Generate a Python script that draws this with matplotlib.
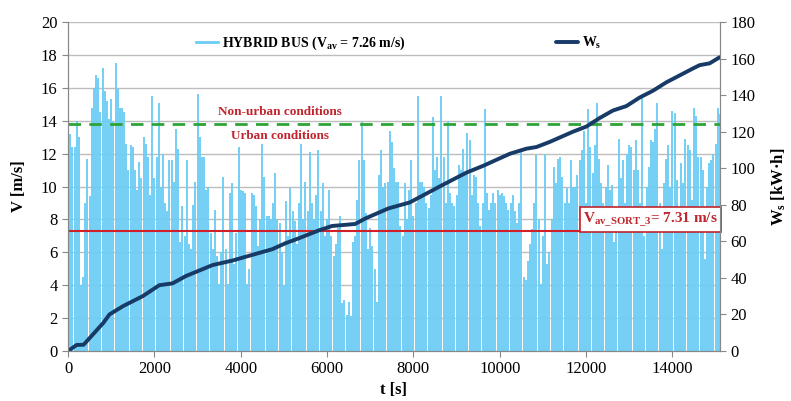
import numpy as np
import matplotlib
matplotlib.use("Agg")
import matplotlib.pyplot as plt

plt.rcParams['font.family'] = ['Liberation Serif', 'DejaVu Serif']
plt.rcParams['mathtext.fontset'] = 'custom'
plt.rcParams['mathtext.rm'] = 'Liberation Serif:bold'
plt.rcParams['mathtext.bf'] = 'Liberation Serif:bold'
plt.rcParams['mathtext.it'] = 'Liberation Serif:bold'

# speed trace, one reading every 50 s (peaks)
speed_step = 50
speed = [
    4.0, 13.2, 12.4, 12.4, 14.0, 13.0, 4.0, 4.5, 9.0, 11.7,
    9.4, 14.8, 16.0, 16.8, 16.6, 14.5, 17.2, 15.8, 15.2, 14.1,
    15.3, 14.0, 17.5, 15.9, 14.8, 14.8, 14.5, 12.6, 11.0, 12.5,
    12.4, 11.0, 9.8, 11.5, 10.5, 13.0, 12.6, 11.8, 9.5, 15.5,
    10.5, 11.8, 15.1, 10.0, 12.0, 9.0, 8.5, 11.6, 11.6, 10.3,
    13.5, 12.3, 6.6, 8.8, 7.0, 11.6, 6.5, 6.2, 8.9, 10.3,
    15.6, 13.0, 11.8, 11.8, 9.8, 10.0, 7.2, 6.2, 8.6, 5.8,
    4.1, 6.0, 10.6, 6.2, 4.1, 9.6, 10.2, 5.3, 7.2, 12.4,
    9.8, 9.7, 9.6, 4.1, 5.0, 9.6, 9.5, 8.8, 6.4, 8.0,
    12.6, 10.6, 8.2, 8.2, 8.0, 9.0, 10.8, 8.0, 7.8, 6.0,
    4.0, 9.1, 7.0, 9.9, 8.5, 7.9, 6.5, 9.0, 12.6, 8.0,
    10.3, 8.5, 12.1, 9.0, 8.0, 9.5, 12.2, 8.5, 10.2, 7.0,
    8.0, 9.8, 7.0, 5.8, 6.5, 7.5, 8.2, 2.9, 3.1, 2.2,
    3.0, 2.1, 6.6, 7.0, 9.2, 11.6, 13.9, 11.6, 8.4, 6.2,
    7.5, 6.4, 5.0, 3.0, 10.7, 12.2, 10.0, 10.2, 10.3, 13.4,
    12.7, 11.1, 10.3, 10.3, 7.6, 7.0, 10.2, 8.0, 9.8, 11.6,
    8.2, 9.0, 15.5, 10.3, 10.3, 10.0, 9.0, 8.7, 9.5, 14.2,
    11.0, 11.8, 10.5, 15.5, 11.8, 9.0, 14.0, 9.6, 9.0, 8.8,
    9.5, 11.3, 11.0, 12.3, 10.8, 13.25, 12.85, 9.5, 10.7, 10.6,
    9.0, 7.6, 9.0, 14.7, 9.6, 8.6, 9.0, 9.6, 9.0, 9.8,
    9.5, 9.6, 9.4, 9.0, 8.6, 9.0, 9.5, 8.5, 7.8, 9.0,
    12.1, 4.5, 4.3, 5.5, 6.5, 7.4, 9.0, 11.9, 8.0, 4.1,
    7.0, 12.0, 5.3, 6.0, 8.0, 11.2, 10.2, 11.7, 11.8, 10.6,
    9.0, 9.9, 9.0, 11.6, 10.0, 10.0, 10.7, 11.6, 12.2, 13.4,
    9.0, 14.7, 12.4, 10.8, 12.5, 15.1, 11.7, 10.2, 9.0, 10.0,
    11.3, 9.8, 10.1, 6.6, 8.0, 12.9, 10.5, 11.6, 9.0, 12.0,
    12.5, 12.4, 11.0, 12.8, 11.0, 9.0, 15.4, 7.0, 10.0, 11.2,
    12.8, 12.7, 13.5, 15.1, 9.0, 6.2, 10.2, 11.7, 12.5, 10.0,
    14.6, 14.45, 10.4, 8.4, 11.4, 10.2, 12.9, 12.5, 12.2, 9.2,
    14.8, 14.3, 11.8, 11.8, 11.0, 5.6, 10.0, 11.4, 11.6, 12.0,
    12.6, 14.75, 14.4,
]
t_speed = np.arange(len(speed)) * speed_step

# cumulative energy W_s [kW·h]
t_energy = [0, 200, 360, 818, 960, 1270, 1730, 2115, 2420, 2730, 3346, 3810,
            4270, 4730, 5040, 5350, 5810, 6115, 6650, 6885, 7420, 7917, 8688,
            9228, 9614, 10231, 10617, 10849, 11157, 11697, 12006, 12315, 12623,
            12932, 13241, 13549, 13858, 14167, 14475, 14630, 14861, 15093]
energy = [0, 3.3, 3.4, 15.4, 20, 24.5, 30, 36, 37, 41, 47, 49.5,
          52.6, 55.7, 59, 61.7, 66, 68.4, 69.5, 72.5, 78, 81.3, 91,
          97.6, 101.3, 107.9, 110.7, 111.6, 114.4, 120, 122.8, 127.5, 131.6,
          134, 138.7, 142.4, 147, 150.8, 154.6, 156.4, 157.4, 160.7]

v_limit = 13.8
v_sort = 7.31

fig = plt.figure(figsize=(7.91, 4.01), dpi=100)
ax = fig.add_axes([0.086, 0.1247, 0.8242, 0.8204])
ax2 = ax.twinx()

bus_col = '#6DCDF5'
# each reading drawn as a thin spike from zero, like the dense 1 Hz trace
ax.vlines(t_speed, 0, speed, color=bus_col, lw=1.35, zorder=2)
ax.plot([], [], color=bus_col, lw=2,
        label=r'HYBRID BUS (V$_{\mathrm{av}}$ = 7.26 m/s)')
ax.axhline(v_limit, color='#2EA336', lw=2, ls=(0, (4.5, 3)), zorder=3)
ax.axhline(v_sort, color='#D0202A', lw=1.5, zorder=3)

ax2.plot(t_energy, energy, color='#173A66', lw=2.8, solid_capstyle='round',
         label=r'W$_{\mathrm{s}}$')

ax.set_xlim(0, 15100)
ax.set_ylim(0, 20)
ax2.set_ylim(0, 180)
ax.set_xticks(range(0, 15000, 2000))
ax.set_yticks(range(0, 21, 2))
ax2.set_yticks(range(0, 181, 20))
ax.grid(axis='y', color='#BDBDBD', lw=1)
ax.set_axisbelow(True)
ax.tick_params(labelsize=12, color='#888888', length=4)
ax2.tick_params(labelsize=12, color='#888888', length=4)
for a in (ax, ax2):
    a.spines['top'].set_visible(False)
    for s in ('left', 'right', 'bottom'):
        a.spines[s].set_color('#888888')

ax.set_xlabel('t [s]', fontsize=12, fontweight='bold', labelpad=3)
ax.set_ylabel('V [m/s]', fontsize=12, fontweight='bold', labelpad=10)
ax2.set_ylabel(r'W$_{\mathrm{s}}$ [kW·h]', fontsize=12, fontweight='bold',
               labelpad=10)

red = '#C0242C'
ax.text(4900, 14.55, 'Non-urban conditions', color=red, fontsize=9.5,
        fontweight='bold', ha='center', va='center', zorder=4)
ax.text(4900, 13.1, 'Urban conditions', color=red, fontsize=9.5,
        fontweight='bold', ha='center', va='center', zorder=4)
ax.text(15060, v_sort + 0.12, r'V$_{\mathrm{av\_SORT\_3}}$= 7.31 m/s', color=red,
        fontsize=11, fontweight='bold', ha='right', va='bottom', zorder=5,
        bbox=dict(boxstyle='square,pad=0.2', fc='white', ec=red, lw=1.2))

h1, l1 = ax.get_legend_handles_labels()
h2, l2 = ax2.get_legend_handles_labels()
ax2.legend(h1 + h2, l1 + l2, loc='upper left', bbox_to_anchor=(0.177, 1.0),
           ncol=2, frameon=False, columnspacing=10.8, handlelength=1.6,
           handletextpad=0.3, prop={'weight': 'bold', 'size': 10})

ax.set_zorder(ax2.get_zorder() - 1)
ax.patch.set_visible(True)
ax2.patch.set_visible(False)

fig.savefig('out.png', dpi=100)
